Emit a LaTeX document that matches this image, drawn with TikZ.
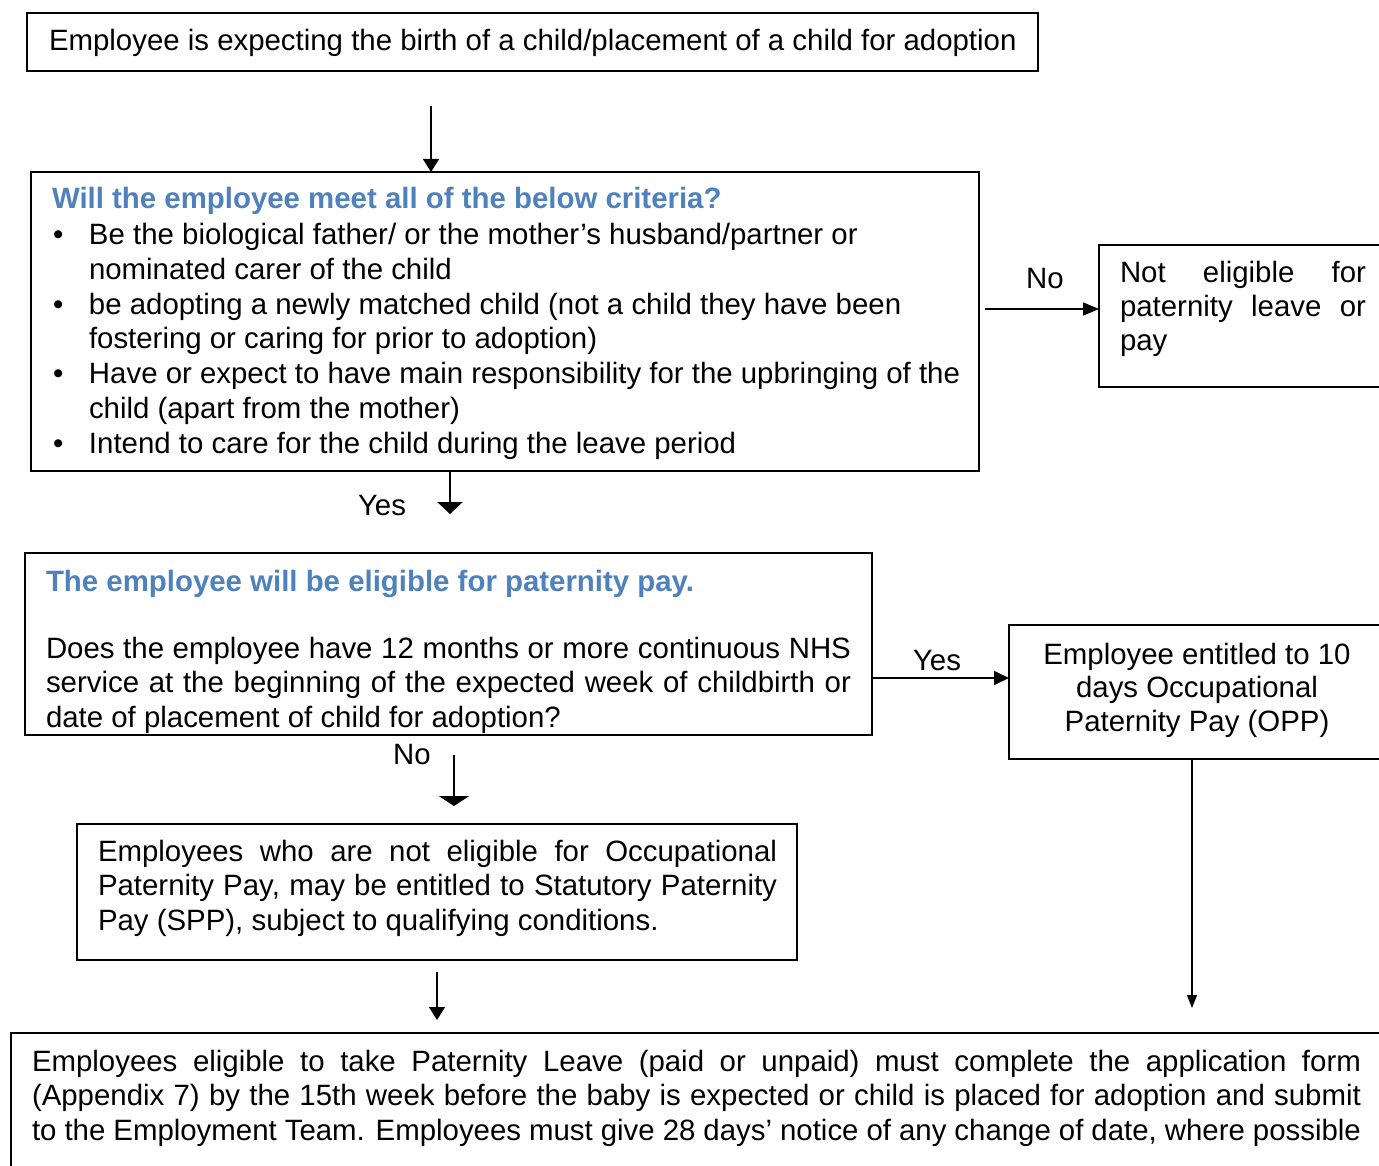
\documentclass[tikz,border=0pt]{standalone}
\usepackage{fontspec}
\setmainfont{Liberation Sans}
\usetikzlibrary{arrows.meta}
\definecolor{hblue}{RGB}{79,129,189}
\newcommand{\jl}[2]{\makebox[#1][s]{#2}}
\begin{document}
\begin{tikzpicture}[x=1pt,y=-1pt,
  box/.style={draw=black, line width=1.5pt, anchor=north west, inner sep=0pt, outer sep=0pt},
  txt/.style={anchor=base west, inner sep=0pt, outer sep=0pt, align=left, text=black,
    font=\fontsize{29.4}{34.4}\selectfont},
  ctxt/.style={anchor=base, inner sep=0pt, outer sep=0pt, align=center, text=black,
    font=\fontsize{29.4}{33.5}\selectfont},
  head/.style={anchor=base west, inner sep=0pt, outer sep=0pt, text=hblue,
    font=\fontsize{29.4}{34.4}\selectfont\bfseries},
  lab/.style={anchor=base, inner sep=0pt, outer sep=0pt, text=black,
    font=\fontsize{29.4}{34.4}\selectfont},
  thin/.style={draw=black, line width=1.3pt, -{Triangle[width=16pt,length=13pt]}},
  thick/.style={draw=black, line width=2.6pt, -{Triangle[width=25pt,length=12pt]}},
  thicker/.style={draw=black, line width=2.7pt, -{Triangle[width=30pt,length=10pt]}},
  side/.style={draw=black, line width=1.4pt, -{Triangle[width=13pt,length=16pt]}},
  side2/.style={draw=black, line width=1.7pt, -{Triangle[width=14pt,length=15pt]}},
  hair/.style={draw=black, line width=1.1pt, -{Triangle[width=10pt,length=13pt]}},
]
\useasboundingbox (0,0) rectangle (1379,1166);
\clip (0,0) rectangle (1379,1166);
\fill[white] (0,0) rectangle (1379,1166);

% boxes
\node[box, minimum width=1011pt, minimum height=58pt] (b1) at (27,13) {};
\node[box, minimum width=948pt, minimum height=299pt] (b2) at (31,172) {};
\node[box, minimum width=300pt, minimum height=142pt] (b3) at (1099,245) {};
\node[box, minimum width=847pt, minimum height=182pt] (b4) at (25,553) {};
\node[box, minimum width=380pt, minimum height=134pt] (b5) at (1009,625) {};
\node[box, minimum width=720pt, minimum height=136pt] (b6) at (77,824) {};
\node[box, minimum width=1380pt, minimum height=200pt] (b7) at (11,1033) {};

% texts (multi-line nodes are placed by the baseline of their last line)
\node[txt] (t1) at (49,51) {Employee is expecting the birth of a child/placement of a child for adoption};
\node[head] (t2h) at (52,209) {Will the employee meet all of the below criteria?};
\node[txt, font=\fontsize{29.4}{34.67}\selectfont] (t2) at (53,453) {%
\makebox[36pt][l]{•}Be the biological father/ or the mother’s husband/partner or\\
\hspace*{36pt}nominated carer of the child\\
\makebox[36pt][l]{•}be adopting a newly matched child (not a child they have been\\
\hspace*{36pt}fostering or caring for prior to adoption)\\
\makebox[36pt][l]{•}Have or expect to have main responsibility for the upbringing of the\\
\hspace*{36pt}child (apart from the mother)\\
\makebox[36pt][l]{•}Intend to care for the child during the leave period};
\node[txt] (t3) at (1120,351) {%
\jl{246pt}{Not eligible for}\\
\jl{246pt}{paternity leave or}\\
pay};
\node[head] (t4h) at (46,591) {The employee will be eligible for paternity pay.};
\node[txt] (t4) at (46,727) {%
\jl{805pt}{Does the employee have 12 months or more continuous NHS}\\
\jl{805pt}{service at the beginning of the expected week of childbirth or}\\
date of placement of child for adoption?};
\node[ctxt] (t5) at (1197,731) {Employee entitled to 10\\ days Occupational\\ Paternity Pay (OPP)};
\node[txt] (t6) at (98,930) {%
\jl{679pt}{Employees who are not eligible for Occupational}\\
\jl{679pt}{Paternity Pay, may be entitled to Statutory Paternity}\\
Pay (SPP), subject to qualifying conditions.};
\node[txt] (t7) at (32,1140) {%
\jl{1329pt}{Employees eligible to take Paternity Leave (paid or unpaid) must complete the application form}\\
\jl{1329pt}{(Appendix 7) by the 15th week before the baby is expected or child is placed for adoption and submit}\\
\jl{1329pt}{to the Employment Team. Employees must give 28 days’ notice of any change of date, where possible}};

% labels
\node[lab] (lno1) at (1045,289) {No};
\node[lab] (lyes1) at (382,515) {Yes};
\node[lab] (lyes2) at (937,670) {Yes};
\node[lab] (lno2) at (412,764) {No};

% connector end points
\coordinate (c1) at (431,106);
\coordinate (c2) at (985,309);
\coordinate (c3) at (450,514);
\coordinate (c4) at (1009,678);
\coordinate (c5s) at (454,755);
\coordinate (c5e) at (454,806);
\coordinate (c6s) at (437,972);
\coordinate (c6e) at (437,1020);
\coordinate (c7) at (1192,1008);

% connectors
\draw[thin] (c1) -- (c1 |- b2.north);
\draw[side] (c2) -- (c2 -| b3.west);
\draw[thick] (c3 |- b2.south) -- (c3);
\draw[side2] (c4 -| b4.east) -- (c4 -| b5.west);
\draw[thicker] (c5s) -- (c5e);
\draw[thin] (c6s) -- (c6e);
\draw[hair] (c7 |- b5.south) -- (c7);
\end{tikzpicture}
\end{document}
